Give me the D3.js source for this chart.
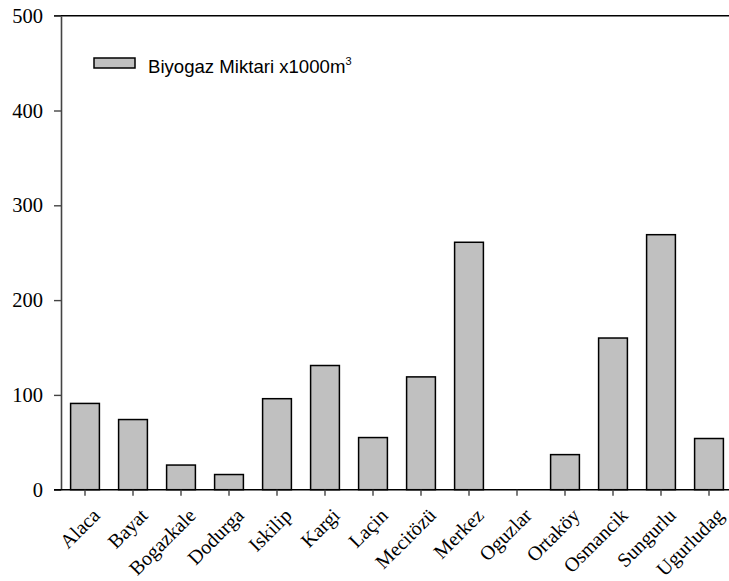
<!DOCTYPE html>
<html>
<head>
<meta charset="utf-8">
<script src="https://cdn.jsdelivr.net/npm/d3@7"></script>
<style>
  html, body { margin: 0; padding: 0; background: #fff; }
  svg { display: block; }
</style>
</head>
<body>
<svg id="chart" width="729" height="581"></svg>
<script>
// Districts and biogas amounts (x1000 m³)
const districts = ["Alaca", "Bayat", "Bogazkale", "Dodurga", "Iskilip", "Kargi", "Laçin",
  "Mecitözü", "Merkez", "Oguzlar", "Ortaköy", "Osmancik", "Sungurlu", "Ugurludag"];
const biogas = [91, 74, 26, 16, 96, 131, 55, 119, 261, 0, 37, 160, 269, 54];
const yTicks = [0, 100, 200, 300, 400, 500];
const legendLabel = "Biyogaz Miktari x1000m";

const svg = d3.select("#chart");
const plotLeft = 61, plotRight = 733, plotTop = 15.7, plotBottom = 489.7;

const x = d3.scaleBand().domain(districts).range([plotLeft, plotRight]).paddingInner(0.4).paddingOuter(0.2);
const y = d3.scaleLinear().domain([0, 500]).range([plotBottom, plotTop]);

const serif = "'Liberation Serif', 'Times New Roman', serif";
const sans = "'Liberation Sans', Arial, sans-serif";

// Bars
svg.append("g").selectAll("rect")
  .data(districts.map((d, i) => ({ d, v: biogas[i] })))
  .join("rect")
  .attr("x", o => x(o.d))
  .attr("width", x.bandwidth())
  .attr("y", o => y(o.v))
  .attr("height", o => y(0) - y(o.v))
  .attr("fill", "#c0c0c0")
  .attr("stroke", o => o.v > 0 ? "#000" : "none")
  .attr("stroke-width", 1.5);

// Top frame line
svg.append("line")
  .attr("x1", 54).attr("x2", 729)
  .attr("y1", y(500)).attr("y2", y(500))
  .attr("stroke", "#000").attr("stroke-width", 1.6);

// Y axis
const yAxis = svg.append("g")
  .attr("transform", `translate(${plotLeft},0)`)
  .attr("font-family", serif)
  .call(d3.axisLeft(y).tickValues(yTicks).tickSize(7).tickPadding(11).tickSizeOuter(0));
yAxis.attr("font-family", serif).attr("font-size", 20.5);
yAxis.select(".domain").attr("stroke", "#444").attr("stroke-width", 1.6);
yAxis.selectAll(".tick line").attr("stroke", "#444").attr("stroke-width", 1.4);
yAxis.selectAll(".tick text")
  .style("font-family", serif).style("font-size", "20.5px").attr("fill", "#000");

// X axis
const xAxis = svg.append("g")
  .attr("transform", `translate(0,${plotBottom})`)
  .call(d3.axisBottom(x).tickSize(6).tickSizeOuter(0));
xAxis.attr("font-family", serif).attr("font-size", 20);
xAxis.select(".domain").attr("d", `M54,0H729`).attr("stroke", "#000").attr("stroke-width", 1.6);
xAxis.selectAll(".tick line").attr("stroke", "#444").attr("stroke-width", 1.4);
xAxis.selectAll(".tick text")
  .style("font-family", serif).style("font-size", "20px").attr("fill", "#000")
  .attr("text-anchor", "end")
  .attr("dy", 0)
  .attr("y", 0)
  .attr("transform", "translate(16,27) rotate(-45)");

// Legend
const legend = svg.append("g").attr("transform", "translate(94,58)");
legend.append("rect")
  .attr("width", 41).attr("height", 10)
  .attr("fill", "#c0c0c0").attr("stroke", "#000").attr("stroke-width", 1.5);
const lt = legend.append("text")
  .attr("x", 54).attr("y", 15)
  .attr("font-family", sans).attr("font-size", 18.6).attr("fill", "#000");
lt.append("tspan").text(legendLabel);
lt.append("tspan").text("3").attr("font-size", 11).attr("dy", -8);
</script>
</body>
</html>
